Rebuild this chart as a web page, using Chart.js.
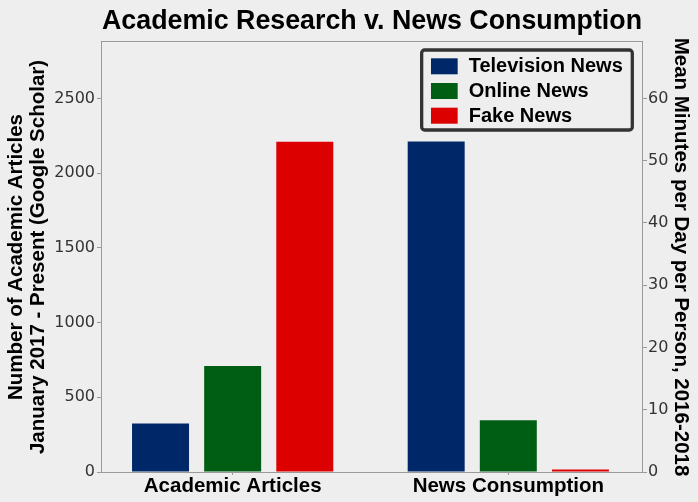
<!DOCTYPE html>
<html>
<head>
<meta charset="utf-8">
<script src="https://cdn.jsdelivr.net/npm/chart.js@4/dist/chart.umd.min.js"></script>
<style>
  html, body { margin: 0; padding: 0; background: #eeeeee; }
  #wrap { width: 698px; height: 502px; position: relative; }
</style>
</head>
<body>
<div id="wrap"><canvas id="c"></canvas></div>
<script>
// ---- data ----
const categories = ['Academic Articles', 'News Consumption'];
const seriesNames = ['Television News', 'Online News', 'Fake News'];
const articleCounts = [325, 710, 2210];   // left axis (Academic Articles)
const minutesPerDay = [53.1, 8.3, 0.4];   // right axis (News Consumption)
const leftTicks = [0, 500, 1000, 1500, 2000, 2500];
const rightTicks = [0, 10, 20, 30, 40, 50, 60];
const leftTitle = ['Number of Academic Articles', 'January 2017 - Present (Google Scholar)'];
const rightTitle = 'Mean Minutes per Day per Person, 2016-2018';
const chartTitle = 'Academic Research v. News Consumption';

// ---- styles ----
const colors = ['#002868', '#005e14', '#dd0000'];
const LEFT_MAX = 2878, RIGHT_MAX = 69.07;

const datasets = [];
seriesNames.forEach((name, i) => {
  datasets.push({
    label: name, yAxisID: 'y',
    data: [{x: 0, y: articleCounts[i]}],
    backgroundColor: colors[i], borderWidth: 0,
    skipNull: true, categoryPercentage: 0.785, barPercentage: 0.79
  });
  datasets.push({
    label: name, yAxisID: 'y1',
    data: [{x: 1, y: minutesPerDay[i]}],
    backgroundColor: colors[i], borderWidth: 0,
    skipNull: true, categoryPercentage: 0.785, barPercentage: 0.79
  });
});

const frame = {
  id: 'frame',
  beforeDatasetsDraw(chart) {
    const ca = chart.chartArea, ctx = chart.ctx;
    ctx.save();
    ctx.strokeStyle = '#9a9a9a';
    ctx.lineWidth = 1;
    ctx.strokeRect(ca.left - 0.5, ca.top - 0.5, ca.right - ca.left + 1, ca.bottom - ca.top + 1);
    ctx.restore();
  }
};

const legendBox = {
  id: 'legendBox',
  afterDraw(chart) {
    const ca = chart.chartArea, ctx = chart.ctx;
    ctx.save();
    ctx.font = 'bold 20px "Liberation Sans", Arial, sans-serif';
    let tw = 0;
    seriesNames.forEach(n => { tw = Math.max(tw, ctx.measureText(n).width); });
    const padL = 9.3, sw = 26.7, sh = 16, gap = 11, padR = 9.5, rowH = 24.7;
    const w = padL + sw + gap + tw + padR;
    const h = 80;
    const bx = ca.right - 9.7 - w;
    const by = ca.top + 8;
    ctx.lineWidth = 3.3;
    ctx.strokeStyle = '#333333';
    ctx.fillStyle = '#eeeeee';
    ctx.beginPath();
    if (ctx.roundRect) ctx.roundRect(bx, by, w, h, 3); else ctx.rect(bx, by, w, h);
    ctx.fill();
    ctx.stroke();
    ctx.textBaseline = 'middle';
    ctx.textAlign = 'left';
    seriesNames.forEach((n, i) => {
      const sy = by + 8.3 + i * rowH;
      ctx.fillStyle = colors[i];
      ctx.fillRect(bx + padL, sy, sw, sh);
      ctx.fillStyle = '#000';
      ctx.fillText(n, bx + padL + sw + gap, sy + 8.3);
    });
    ctx.restore();
  }
};

new Chart(document.getElementById('c'), {
  type: 'bar',
  data: { datasets },
  plugins: [frame, legendBox],
  options: {
    responsive: true,
    maintainAspectRatio: false,
    animation: false,
    layout: { padding: 0 },
    plugins: {
      legend: { display: false },
      tooltip: { enabled: false },
      title: {
        display: true, text: chartTitle, fullSize: false,
        color: '#000',
        font: { family: '"Liberation Sans", Arial, sans-serif', size: 27, weight: 'bold', lineHeight: 1.2 },
        padding: { top: 5.6, bottom: 4 }
      }
    },
    scales: {
      x: {
        type: 'linear', bounds: 'data', offset: false, min: -0.474, max: 1.485,
        afterBuildTicks: s => { s.ticks = categories.map((_, i) => ({ value: i })); },
        afterFit: s => { s.height = 30; },
        border: { display: false },
        grid: { display: true, offset: false, drawOnChartArea: false, drawTicks: true, tickLength: 3, tickColor: '#9a9a9a' },
        ticks: {
          autoSkip: false, maxRotation: 0, padding: 0, color: '#000',
          font: { family: '"Liberation Sans", Arial, sans-serif', size: 20.5, weight: 'bold', lineHeight: 1.1 },
          callback: v => categories[v]
        }
      },
      y: {
        position: 'left', min: 0, max: LEFT_MAX,
        afterBuildTicks: s => { s.ticks = leftTicks.map(v => ({ value: v })); },
        afterFit: s => { s.width = 102; },
        border: { display: false },
        grid: { display: true, drawOnChartArea: false, drawTicks: true, tickLength: 5, tickColor: '#9a9a9a' },
        ticks: {
          padding: 2, color: '#333',
          font: { family: '"DejaVu Sans", sans-serif', size: 16 },
          callback: v => String(v)
        },
        title: {
          display: true, text: leftTitle, color: '#000',
          font: { family: '"Liberation Sans", Arial, sans-serif', size: 20.5, weight: 'bold', lineHeight: 1.07 },
          padding: { top: 5, bottom: 0 }
        }
      },
      y1: {
        position: 'right', min: 0, max: RIGHT_MAX,
        afterBuildTicks: s => { s.ticks = rightTicks.map(v => ({ value: v })); },
        afterFit: s => { s.width = 56; },
        border: { display: false },
        grid: { display: true, drawOnChartArea: false, drawTicks: true, tickLength: 5, tickColor: '#9a9a9a' },
        ticks: {
          padding: 1, color: '#333',
          font: { family: '"DejaVu Sans", sans-serif', size: 16 },
          callback: v => String(v)
        },
        title: {
          display: true, text: rightTitle, color: '#000',
          font: { family: '"Liberation Sans", Arial, sans-serif', size: 20.5, weight: 'bold', lineHeight: 1.1 },
          padding: { top: 5.7, bottom: 0 }
        }
      }
    }
  }
});
</script>
</body>
</html>
